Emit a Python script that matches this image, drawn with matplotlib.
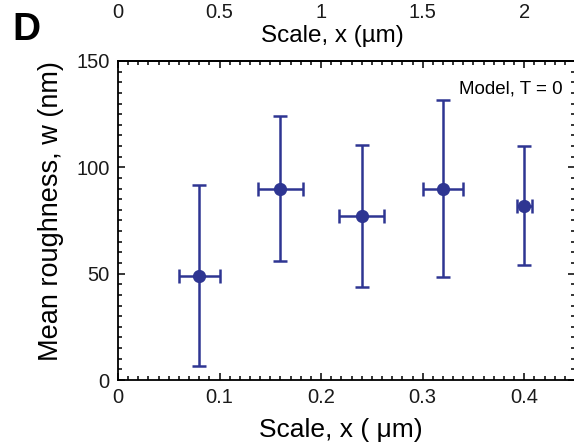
import matplotlib
matplotlib.use('Agg')
import matplotlib.pyplot as plt
from matplotlib.ticker import MultipleLocator

plt.rcParams['font.family'] = ['Liberation Sans', 'DejaVu Sans']

# roughness vs. scale
scale_um = [0.08, 0.16, 0.24, 0.32, 0.40]
scale_err = [0.02, 0.022, 0.022, 0.02, 0.0075]
roughness_nm = [49, 90, 77, 90, 82]
roughness_err = [42.5, 34, 33.5, 41.5, 28]
top_ticks = [0, 0.5, 1, 1.5, 2]

navy = '#2e3592'
W, H = 574, 446

fig = plt.figure(figsize=(W / 100, H / 100), dpi=100)
ax = fig.add_axes([118 / W, 1 - 380 / H, 457 / W, 319 / H])

ax.errorbar(scale_um, roughness_nm, yerr=roughness_err, xerr=scale_err,
            fmt='o', color=navy, ms=8.5, elinewidth=1.8, capsize=5.3,
            capthick=1.8, clip_on=False)

ax.set_xlim(0, 0.45)
ax.set_ylim(0, 150)
ax.set_xticks([0, 0.1, 0.2, 0.3, 0.4])
ax.set_xticklabels(['0', '0.1', '0.2', '0.3', '0.4'])
ax.set_yticks([0, 50, 100, 150])
ax.xaxis.set_minor_locator(MultipleLocator(0.01))
ax.yaxis.set_minor_locator(MultipleLocator(5))
ax.tick_params(which='both', direction='in', right=True, labelsize=14.5,
               width=1.1, labelcolor='#1a1a1a')
ax.tick_params(which='major', length=5, pad=6)
ax.tick_params(which='minor', length=2.6)
for s in ax.spines.values():
    s.set_linewidth(1.3)
# right edge falls just past the figure, only its ticks show
ax.spines['right'].set_visible(False)

# upper axis in the other unit
top = ax.secondary_xaxis('top', functions=(lambda x: x * 5, lambda x: x / 5))
top.set_xticks(top_ticks)
top.set_xticklabels(['0', '0.5', '1', '1.5', '2'])
top.xaxis.set_minor_locator(MultipleLocator(0.05))
top.tick_params(which='both', direction='in', labelsize=14.5, width=1.1,
                labelcolor='#1a1a1a')
top.tick_params(which='major', length=5, pad=28)
top.tick_params(which='minor', length=2.6)
top.spines['top'].set_linewidth(1.3)

fig.text(332 / W, 1 - 42 / H, 'Scale, x (µm)', fontsize=17.5,
         ha='center', va='baseline')
fig.text(341 / W, 1 - 437 / H, 'Scale, x ( μm)', fontsize=19,
         ha='center', va='baseline')
fig.text(51 / W, 1 - 211 / H, 'Mean roughness, w (nm)', fontsize=19.5,
         rotation=90, ha='center', va='center')
fig.text(12 / W, 1 - 40 / H, 'D', fontsize=28, fontweight='bold',
         va='baseline')
ax.text(0.972, (380 - 93) / 319, 'Model, T = 0', transform=ax.transAxes,
        fontsize=13.5, ha='right', va='baseline')

fig.savefig('out.png', dpi=100)
